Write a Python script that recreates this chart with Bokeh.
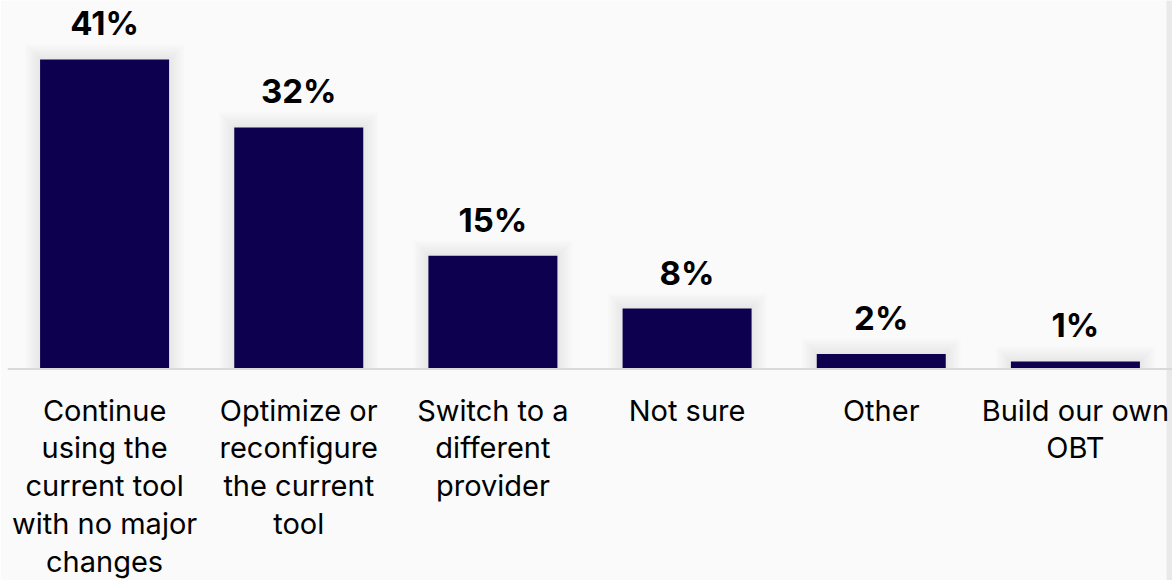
from bokeh.plotting import figure
from bokeh.models import Range1d, Span, BoxAnnotation, ColumnDataSource
from bokeh.core.properties import value
from bokeh.embed import file_html
from bokeh.resources import INLINE

categories = [
    "Continue\nusing the\ncurrent tool\nwith no major\nchanges",
    "Optimize or\nreconfigure\nthe current\ntool",
    "Switch to a\ndifferent\nprovider",
    "Not sure",
    "Other",
    "Build our own\nOBT",
]
values = [41, 32, 15, 8, 2, 1]
value_labels = ["41%", "32%", "15%", "8%", "2%", "1%"]

BG = "#fafafa"
BAR = "#0d004f"
W, H = 1172, 580
LEFT = 7
PX_PER_UNIT_Y = 7.55
BASE_PX = 368.5

y_top = BASE_PX / PX_PER_UNIT_Y
y_bot = -(H - BASE_PX) / PX_PER_UNIT_Y

p = figure(width=W, height=H, output_backend="svg", toolbar_location=None,
           x_range=Range1d(-0.5, len(values) - 0.5), y_range=Range1d(y_bot, y_top),
           min_border_left=LEFT, min_border_right=0, min_border_top=0, min_border_bottom=0,
           background_fill_color=BG, border_fill_color=BG)
p.xaxis.visible = False
p.yaxis.visible = False
p.grid.visible = False
p.outline_line_color = None

xs = list(range(len(values)))
px_per_unit_x = (W - LEFT) / len(values)
bar_w = 129 / px_per_unit_x

# right-edge strip
strip_left = (1166 - LEFT) / px_per_unit_x - 0.5
p.add_layout(BoxAnnotation(left=strip_left, fill_color="#ebe8e8", fill_alpha=1.0,
                           line_color=None, level="underlay"))

# soft shadow
for k in range(1, 7):
    p.vbar(x=xs, top=[v + (k * 2.5) / PX_PER_UNIT_Y for v in values], bottom=0,
           width=bar_w + 2 * k * 2.5 / px_per_unit_x, fill_color="black", fill_alpha=0.012,
           line_color=None)

p.vbar(x=xs, top=values, bottom=0, width=bar_w, fill_color=BAR, line_color=None)

p.add_layout(Span(location=0, dimension="width", line_color="#d9d9d9", line_width=2))

p.text(x=xs, y=values, text=value_labels, text_align="center", text_baseline="alphabetic",
       y_offset=-36, text_font=value("Inter"), text_font_style="bold",
       text_font_size="33px", text_color="#000000")

lx, ly, lt, lo = [], [], [], []
for i, c in enumerate(categories):
    for j, line in enumerate(c.split("\n")):
        lx.append(i)
        ly.append(0)
        lt.append(line)
        lo.append(41.0 + j * 37.9)
src = ColumnDataSource(dict(x=lx, y=ly, text=lt, yo=lo))
p.text(x="x", y="y", text="text", y_offset="yo", source=src, text_align="center",
       text_baseline="alphabetic", text_font=value("Inter"), text_font_size="29px",
       text_color="#000000")

open("out.html", "w").write(file_html(p, INLINE))
